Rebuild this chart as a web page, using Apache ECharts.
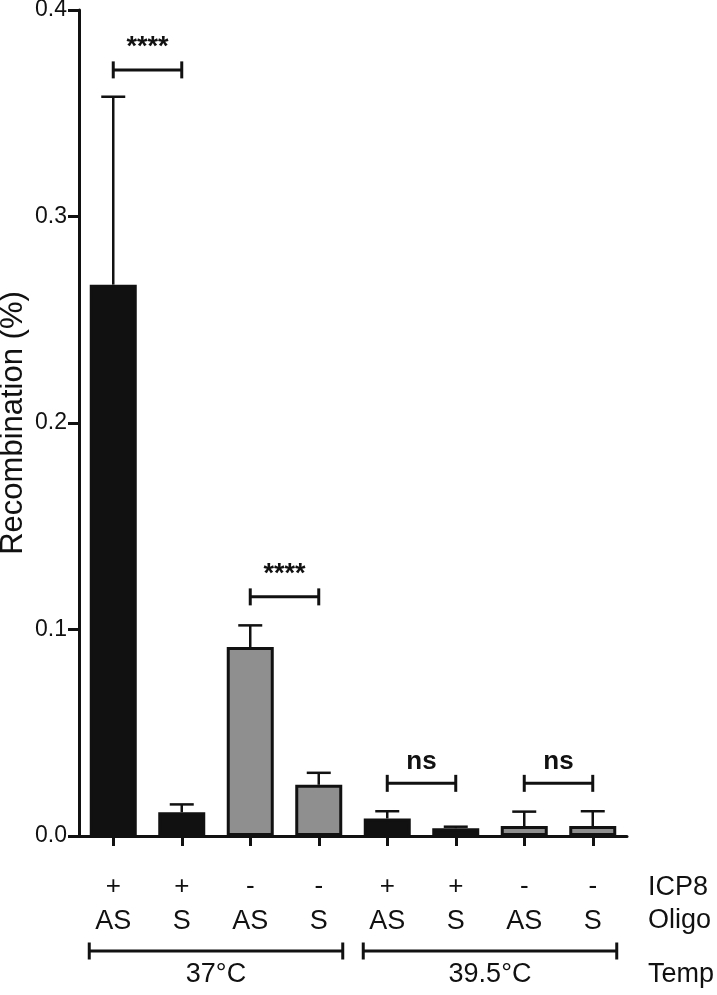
<!DOCTYPE html>
<html>
<head>
<meta charset="utf-8">
<script src="https://cdn.jsdelivr.net/npm/echarts@6/dist/echarts.min.js"></script>
<style>
  html, body { margin: 0; padding: 0; background: #fff; }
  #chart { width: 717px; height: 995px; }
</style>
</head>
<body>
<div id="chart"></div>
<script>
// ---- data ----
const icp8 = ['+', '+', '-', '-', '+', '+', '-', '-'];
const oligo = ['AS', 'S', 'AS', 'S', 'AS', 'S', 'AS', 'S'];
const means = [0.267, 0.0115, 0.0915, 0.0248, 0.0085, 0.0038, 0.0048, 0.0048];
const sem = [0.091, 0.0038, 0.0105, 0.0058, 0.0035, 0.0007, 0.007, 0.0072];
const fillGroup = ['black', 'black', 'gray', 'gray', 'black', 'black', 'gray', 'gray'];
const yTicks = [0, 0.1, 0.2, 0.3, 0.4];
const sigStart = [0, 2, 4, 6];
const sigEnd = [1, 3, 5, 7];
const sigLevel = [0.371, 0.1158, 0.0255, 0.0255];
const sigText = ['****', '****', 'ns', 'ns'];
const tempStart = [0, 4];
const tempEnd = [3, 7];
const tempText = ['37°C', '39.5°C'];
const rowNames = ['ICP8', 'Oligo', 'Temp'];

const FONT = '"Liberation Sans", Arial, Helvetica, sans-serif';
const colors = { black: '#111111', gray: '#8f8f8f' };
const categories = icp8.map((v, i) => i);

const chart = echarts.init(document.getElementById('chart'), null, { renderer: 'canvas' });

const option = {
  animation: false,
  backgroundColor: '#ffffff',
  grid: { left: 79, right: 90, top: 10, bottom: 159, containLabel: false, outerBoundsMode: 'none' },
  xAxis: {
    type: 'category',
    data: categories,
    axisLine: { lineStyle: { color: '#111', width: 3 } },
    axisTick: { show: true, alignWithLabel: true, length: 10, lineStyle: { color: '#111', width: 3 } },
    axisLabel: {
      margin: 33,
      interval: 0,
      formatter: function (v, i) { return '{a|' + icp8[i] + '}\n{b|' + oligo[i] + '}'; },
      rich: {
        a: { fontFamily: FONT, fontSize: 26, color: '#111', lineHeight: 35, align: 'center' },
        b: { fontFamily: FONT, fontSize: 27, color: '#111', lineHeight: 35, align: 'center' }
      }
    },
    splitLine: { show: false }
  },
  yAxis: {
    type: 'value',
    min: 0, max: 0.4, interval: 0.1,
    name: 'Recombination (%)',
    nameLocation: 'middle',
    nameRotate: 90,
    nameGap: 50,
    nameMoveOverlap: false,
    nameTextStyle: { fontFamily: FONT, fontSize: 31, color: '#111' },
    axisLine: { show: true, lineStyle: { color: '#111', width: 3 } },
    axisTick: { show: true, length: 11, lineStyle: { color: '#111', width: 3 } },
    axisLabel: {
      margin: 12,
      fontFamily: FONT, fontSize: 23, color: '#111',
      formatter: function (v) { return v.toFixed(1); }
    },
    splitLine: { show: false }
  },
  graphic: rowNames.map(function (t, i) {
    return {
      type: 'text',
      left: 648,
      top: [874, 907, 961][i],
      style: { text: t, font: '27px ' + FONT, fill: '#111' }
    };
  }),
  series: [
    {
      type: 'bar',
      barWidth: 47,
      data: means.map(function (v, i) {
        return { value: v, itemStyle: { color: colors[fillGroup[i]], borderColor: '#111', borderWidth: 3 } };
      }),
      z: 2
    },
    {
      type: 'custom',
      z: 1,
      data: means.map(function (v, i) { return [i, v, v + sem[i]]; }),
      renderItem: function (params, api) {
        const i = api.value(0);
        const p0 = api.coord([i, api.value(1)]);
        const p1 = api.coord([i, api.value(2)]);
        const style = { stroke: '#111', lineWidth: 2.5 };
        return {
          type: 'group',
          children: [
            { type: 'line', shape: { x1: p0[0], y1: p0[1], x2: p1[0], y2: p1[1] }, style: style },
            { type: 'line', shape: { x1: p1[0] - 12, y1: p1[1], x2: p1[0] + 12, y2: p1[1] }, style: style }
          ]
        };
      }
    },
    {
      type: 'custom',
      z: 3,
      data: sigStart.map(function (s, k) { return [s, sigEnd[k], sigLevel[k]]; }),
      renderItem: function (params, api) {
        const a = api.coord([api.value(0), api.value(2)]);
        const b = api.coord([api.value(1), api.value(2)]);
        const style = { stroke: '#111', lineWidth: 3 };
        const txt = sigText[params.dataIndex];
        return {
          type: 'group',
          children: [
            { type: 'line', shape: { x1: a[0], y1: a[1], x2: b[0], y2: b[1] }, style: style },
            { type: 'line', shape: { x1: a[0], y1: a[1] - 8.5, x2: a[0], y2: a[1] + 8.5 }, style: style },
            { type: 'line', shape: { x1: b[0], y1: b[1] - 8.5, x2: b[0], y2: b[1] + 8.5 }, style: style },
            {
              type: 'text',
              style: {
                text: txt, x: (a[0] + b[0]) / 2, y: a[1] - 22,
                align: 'center', verticalAlign: 'middle',
                font: 'bold ' + (txt === 'ns' ? 26 : 27) + 'px ' + FONT, fill: '#111'
              }
            }
          ]
        };
      }
    },
    {
      type: 'custom',
      z: 3,
      clip: false,
      data: tempStart.map(function (s, k) { return [s, tempEnd[k], 0]; }),
      renderItem: function (params, api) {
        const a = api.coord([api.value(0), 0]);
        const b = api.coord([api.value(1), 0]);
        const y = a[1] + 115;
        const x1 = a[0] - 24, x2 = b[0] + 24;
        const style = { stroke: '#111', lineWidth: 3 };
        return {
          type: 'group',
          children: [
            { type: 'line', shape: { x1: x1, y1: y, x2: x2, y2: y }, style: style },
            { type: 'line', shape: { x1: x1, y1: y - 8.5, x2: x1, y2: y + 8.5 }, style: style },
            { type: 'line', shape: { x1: x2, y1: y - 8.5, x2: x2, y2: y + 8.5 }, style: style },
            {
              type: 'text',
              style: {
                text: tempText[params.dataIndex], x: (x1 + x2) / 2, y: y + 24,
                align: 'center', verticalAlign: 'middle',
                font: '27px ' + FONT, fill: '#111'
              }
            }
          ]
        };
      }
    }
  ]
};
chart.setOption(option);
</script>
</body>
</html>
